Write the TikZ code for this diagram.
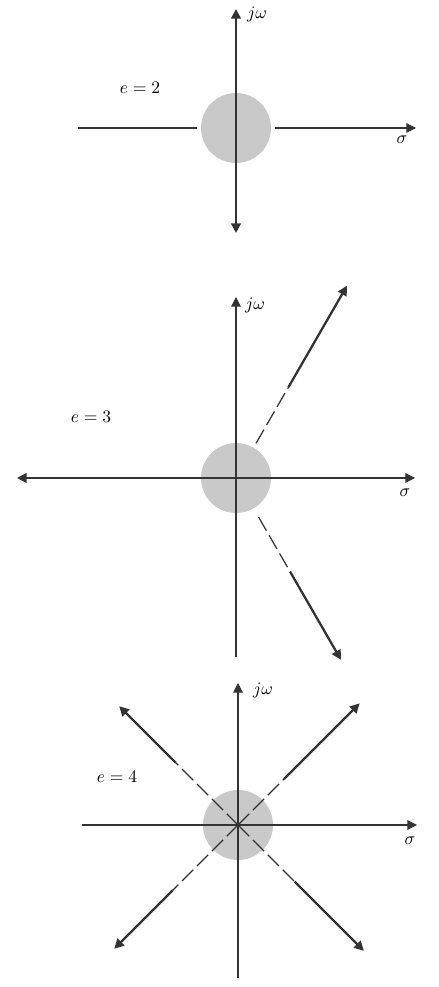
\documentclass[tikz,border=0pt]{standalone}
\usepackage{amssymb}
\usetikzlibrary{arrows.meta}

\tikzset{
  axisline/.style={line width=0.6pt, black!80},
  locusline/.style={line width=1.3pt, black!80},
  asymline/.style={line width=0.7pt, black!80, dash pattern=on 9pt off 3pt},
  blob/.style={fill=black!21},
  arrowend/.style={-{Triangle[length=5.5pt,width=5.5pt]}},
  bothends/.style={{Triangle[length=5.5pt,width=5.5pt]}-{Triangle[length=5.5pt,width=5.5pt]}}
}

\begin{document}
\begin{tikzpicture}[x=0.02cm, y=0.02cm]
\useasboundingbox (0,0) rectangle (439,987);
\coordinate (ctwo) at (236,859);
\coordinate (cthree) at (236,509);
\coordinate (cfour) at (238,162);

% e = 2
\begin{scope}[shift={(ctwo)}]
	\fill[blob] (0,0) circle (35);
	\draw[axisline] (-158,0) -- (-39,0);
	\draw[axisline, arrowend] (39,0) -- (180,0);
	\draw[locusline, bothends] (0,-105) -- (0,119);
	\node (jwtwo) at (21,114) {$j\omega$};
	\node (sigtwo) at (166,-12) {$\sigma$};
	\node (labtwo) at (-96,40) {$e = 2$};
\end{scope}

% e = 3
\begin{scope}[shift={(cthree)}]
	\fill[blob] (0,0) circle (35);
	\draw[axisline, arrowend] (0,-179) -- (0,181);
	\draw[axisline, arrowend] (-210,0) -- (179,0);
	\draw[locusline, arrowend] (-89,0) -- (-219,0);
	\draw[asymline] (60:40) -- (60:105);
	\draw[locusline, arrowend] (60:105) -- (60:222);
	\draw[asymline] (-60:45) -- (-60:108);
	\draw[locusline, arrowend] (-60:108) -- (-60:210);
	\node (jwthree) at (19,173) {$j\omega$};
	\node (sigthree) at (169,-15) {$\sigma$};
	\node (labthree) at (-145,61) {$e = 3$};
\end{scope}

% e = 4
\begin{scope}[shift={(cfour)}]
	\fill[blob] (0,0) circle (35);
	\draw[axisline, arrowend] (0,-153) -- (0,142);
	\draw[axisline, arrowend] (-156,0) -- (179,0);
	\draw[asymline] (0,0) -- (135:88);
	\draw[locusline, arrowend] (135:88) -- (135:168);
	\draw[asymline] (0,0) -- (45:65);
	\draw[locusline, arrowend] (45:65) -- (45:172);
	\draw[asymline] (0,0) -- (225:92);
	\draw[locusline, arrowend] (225:92) -- (225:175);
	\draw[asymline] (0,0) -- (315:80);
	\draw[locusline, arrowend] (315:80) -- (315:178);
	\node (jwfour) at (25,135) {$j\omega$};
	\node (sigfour) at (172,-16) {$\sigma$};
	\node (labfour) at (-121,48) {$e = 4$};
\end{scope}
\end{tikzpicture}
\end{document}
